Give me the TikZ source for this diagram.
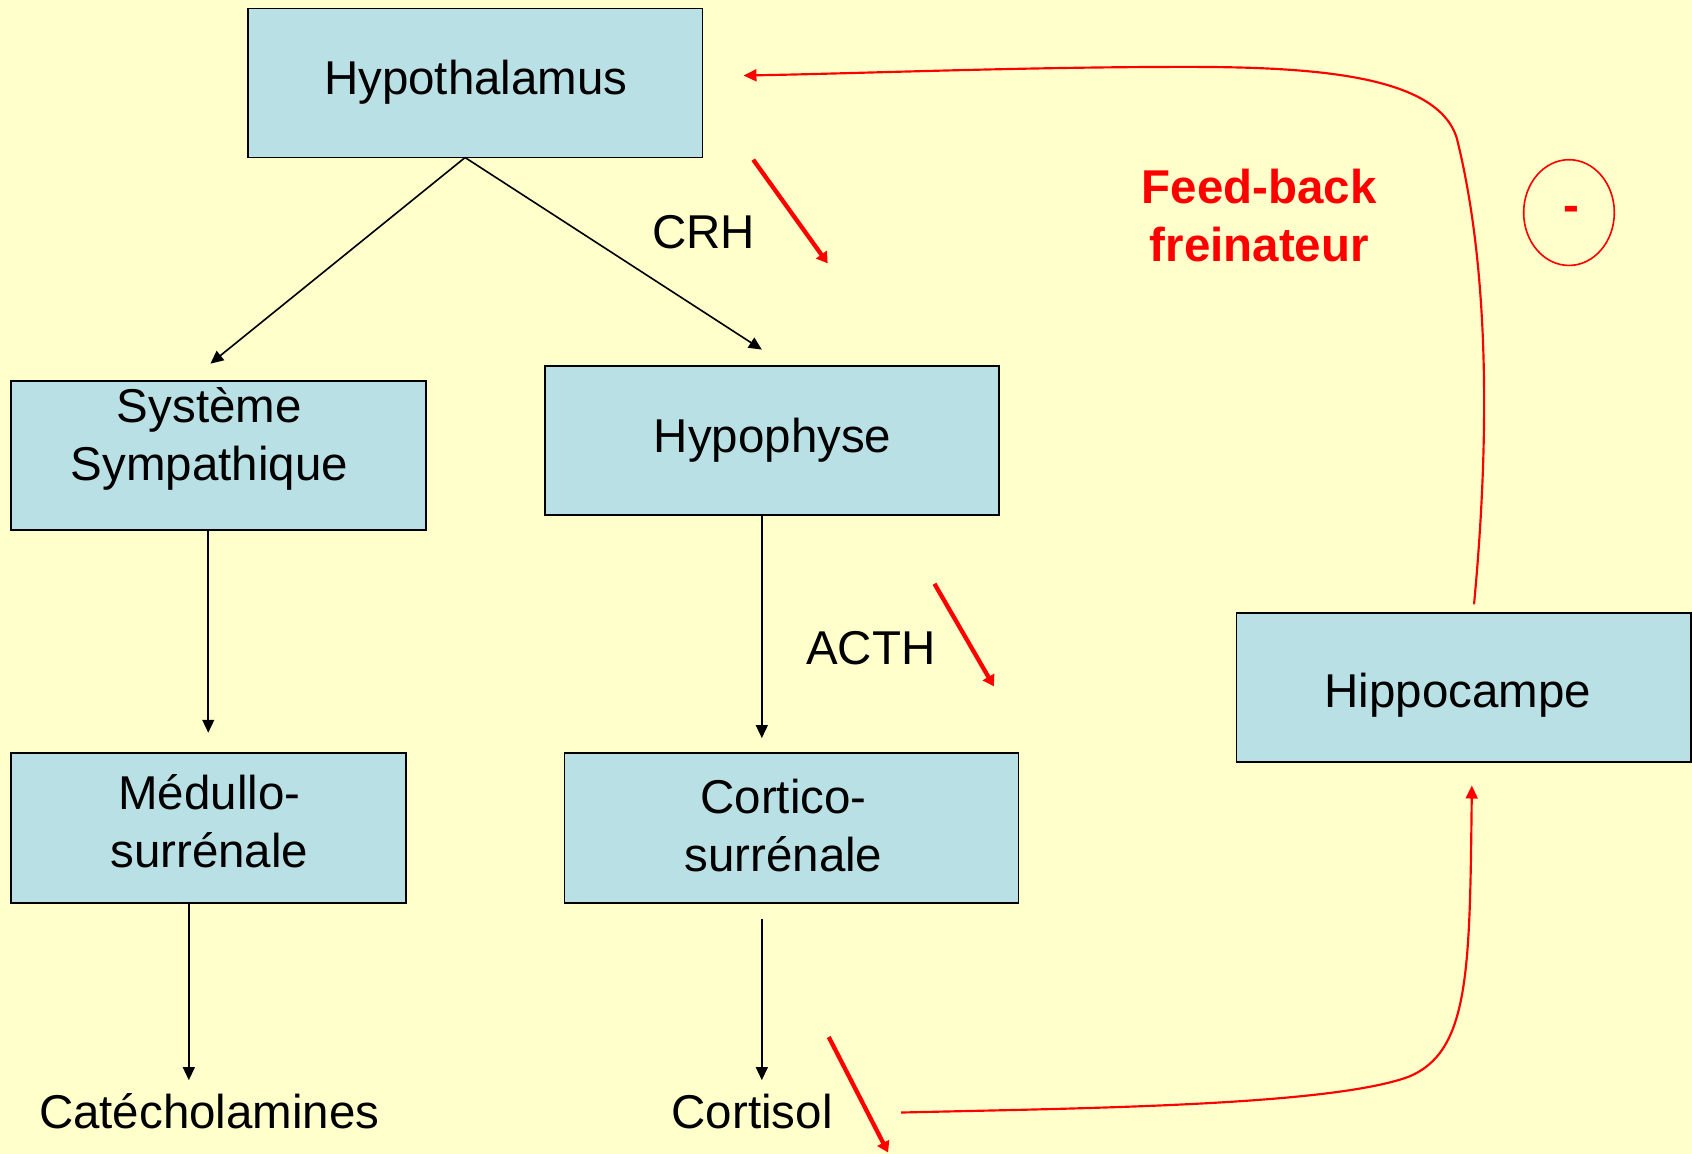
\documentclass[tikz,border=0pt]{standalone}
\usepackage{fontspec}
\setmainfont{Liberation Sans}
\usetikzlibrary{arrows.meta,calc,shapes.geometric}
\definecolor{bgyellow}{HTML}{FFFFCC}
\definecolor{boxblue}{HTML}{B9E0E4}
\definecolor{fbred}{HTML}{FF0000}
\tikzset{
  box/.style={draw=black, line width=0.75pt, fill=boxblue, inner sep=0pt},
  txt/.style={font=\fontsize{22}{27}\selectfont, align=center, inner sep=0pt},
  rtxt/.style={font=\fontsize{22}{27}\selectfont\bfseries, align=center, inner sep=0pt, text=fbred},
  blk/.style={draw=black, line width=0.75pt, -{Triangle[length=6pt,width=5.5pt]}},
  redthick/.style={draw=fbred, line width=2pt, -{Triangle[length=5pt,width=6pt]}},
  redcurve/.style={draw=fbred, line width=1pt, -{Triangle[length=6pt,width=5.5pt]}}
}
\begin{document}
\begin{tikzpicture}[x=0.5pt,y=-0.5pt]
\fill[bgyellow] (0,0) rectangle (1568,1069);
\useasboundingbox (0,0) rectangle (1568,1069);

% boxes
\node[box, minimum width=210.5pt, minimum height=69pt] (hyp) at (440.5,77) {};
\node[box, minimum width=192.5pt, minimum height=69pt] (sys) at (202.5,422) {};
\node[box, minimum width=210.5pt, minimum height=69pt] (hypo) at (715.5,408) {};
\node[box, minimum width=183pt, minimum height=69.5pt] (med) at (193,767.5) {};
\node[box, minimum width=210.5pt, minimum height=69.5pt] (cort) at (733.5,767.5) {};
\node[box, minimum width=210.5pt, minimum height=69pt] (hippo) at (1356.5,637) {};

% box texts
\node[txt] (hypt) at (441,76) {Hypothalamus};
\node[txt] (syst) at (194,407) {Système\\Sympathique};
\node[txt] (hypot) at (716,408) {Hypophyse};
\node[txt] (medt) at (194,761) {Médullo-\\surrénale};
\node[txt] (cortt) at (726,765) {Cortico-\\surrénale};
\node[txt] (hippot) at (1351,644) {Hippocampe};

% free texts
\node[txt] (crh) at (652,215) {CRH};
\node[txt] (acth) at (807,601) {ACTH};
\node[txt] (cat) at (194,1030) {Catécholamines};
\node[txt] (cortisol) at (697,1030) {Cortisol};
\node[rtxt] (fb) at (1167,200) {Feed-back\\freinateur};
\node[draw=fbred, line width=0.75pt, ellipse, minimum width=42pt, minimum height=49pt, inner sep=0pt] (minus) at (1454,197) {};
\node[rtxt] (minust) at (1456,198) {-};

% black connectors
\coordinate (apex) at (431,146);
\coordinate (tipS) at (195,337);
\coordinate (tipH) at (706,324);
\coordinate (sysB) at (193,491);
\coordinate (medA) at (193,679);
\coordinate (hypoB) at (706,477);
\coordinate (cortA) at (706,684);
\coordinate (medB) at (175,837);
\coordinate (catA) at (175,1001);
\coordinate (cortB) at (706,852);
\coordinate (cortsA) at (706,1001);
\draw[blk] (apex) -- (tipS);
\draw[blk] (apex) -- (tipH);
\draw[blk] (sysB) -- (medA);
\draw[blk] (hypoB) -- (cortA);
\draw[blk] (medB) -- (catA);
\draw[blk] (cortB) -- (cortsA);

% red thick short arrows
\coordinate (r1a) at (698,148); \coordinate (r1b) at (767,244);
\coordinate (r2a) at (866,541); \coordinate (r2b) at (921,636);
\coordinate (r3a) at (768,961); \coordinate (r3b) at (823,1068);
\draw[redthick] (r1a) -- (r1b);
\draw[redthick] (r2a) -- (r2b);
\draw[redthick] (r3a) -- (r3b);

% feedback curves
\coordinate (fbStart) at (835,1031);
\coordinate (hipIn) at (1364,728);
\coordinate (hipOut) at (1366,560);
\coordinate (hypIn) at (689,70);
\draw[redcurve] (fbStart) .. controls (1000,1027) and (1230,1025) .. (1305,998)
  .. controls (1362,975) and (1362,900) .. (hipIn);
\draw[redcurve] (hipOut) .. controls (1382,390) and (1378,240) .. (1350,128)
  .. controls (1332,70) and (1220,62) .. (1100,62)
  .. controls (950,62) and (800,68) .. (hypIn);
\end{tikzpicture}
\end{document}
